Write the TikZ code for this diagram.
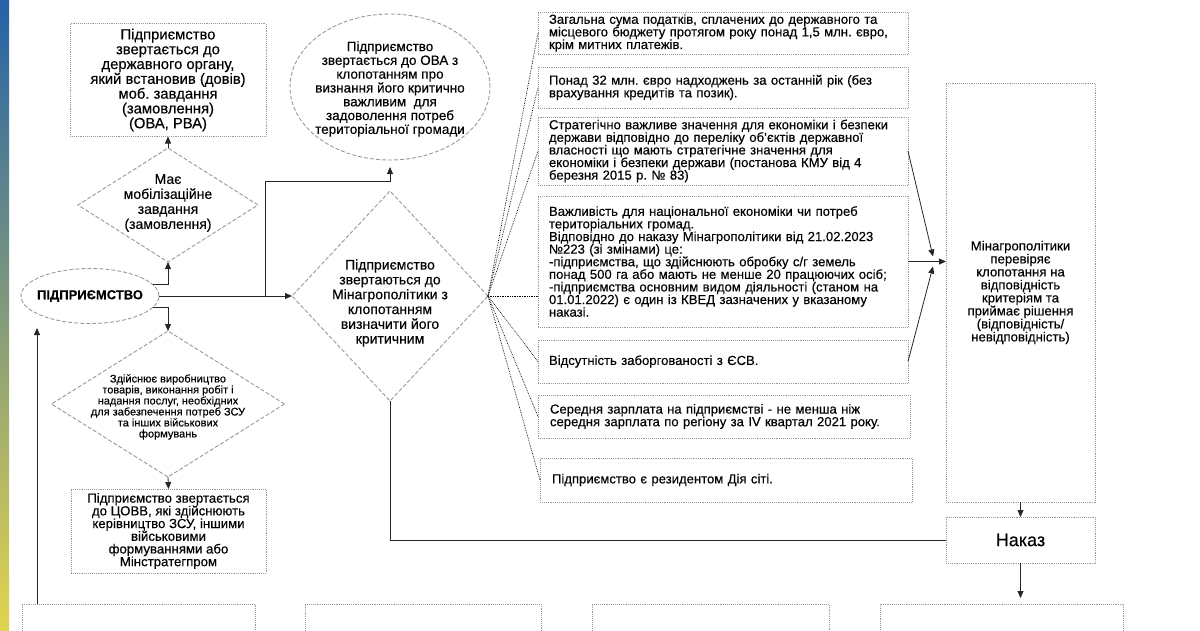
\documentclass[tikz,border=0pt]{standalone}
\usepackage{fontspec}
\setmainfont{Liberation Sans}[FakeBold=0.3]
\usetikzlibrary{shapes.geometric,arrows.meta,calc}
\definecolor{stripblue}{RGB}{36,98,168}
\definecolor{stripgreen}{RGB}{122,158,126}
\definecolor{stripyellow}{RGB}{226,212,78}
\frenchspacing
\begin{document}
\begin{tikzpicture}[x=1pt,y=-1pt,>={Stealth[length=7pt,width=6pt,inset=0pt]},
		conn/.style={line width=0.8pt,black!85},
		dots/.style={densely dotted,line width=0.7pt,black},
		dotbox/.style={draw=black!40,densely dotted,line width=0.9pt,inner sep=0pt,outer sep=0pt},
		dashshape/.style={draw=black!40,dash pattern=on 4pt off 2pt,line width=0.9pt,inner sep=0pt,outer sep=0pt},
		rbox/.style={dotbox,anchor=north west,minimum width=370pt,text width=348pt,align=left,font=\fontsize{13.1}{12.6}\selectfont},
		ctext/.style={align=center,inner sep=0pt}]
	\useasboundingbox (0,0) rectangle (1200,630);
	\shade[top color=stripblue,middle color=stripgreen,bottom color=stripyellow] (0,0) rectangle (9,630);

	\node[dotbox,minimum width=196pt,minimum height=113pt,align=center,
		font=\fontsize{14.8}{14.8}\selectfont] (dov) at (168,80)
		{Підприємство\\звертається до\\державного органу,\\який встановив (довів)\\моб. завдання\\(замовлення)\\(ОВА, РВА)};
	\node[dashshape,diamond,minimum width=180pt,minimum height=114pt] (mob) at (168,205) {};
	\node[ctext,font=\fontsize{14}{15}\selectfont] (mob-t) at (168,203)
		{Має\\мобілізаційне\\завдання\\(замовлення)};
	\node[dashshape,ellipse,minimum width=138pt,minimum height=55pt] (pidpr) at (90,296) {};
	\node[ctext,font=\fontsize{13}{13}\selectfont\bfseries] (pidpr-t) at (pidpr) {ПІДПРИЄМСТВО};
	\node[dashshape,ellipse,minimum width=200pt,minimum height=146pt] (ova) at (390,87) {};
	\node[ctext,font=\fontsize{13.5}{13.8}\selectfont] (ova-t) at (390,89)
		{Підприємство\\звертається до ОВА з\\клопотанням про\\визнання його критично\\важливим\ \ для\\задоволення потреб\\територіальної громади};
	\node[dashshape,diamond,minimum width=196pt,minimum height=210pt] (crit) at (390,296) {};
	\node[ctext,font=\fontsize{14}{14.8}\selectfont] (crit-t) at (390,303)
		{Підприємство\\звертаються до\\Мінагрополітики з\\клопотанням\\визначити його\\критичним};
	\node[dashshape,diamond,minimum width=233pt,minimum height=146pt] (zsu) at (168,404) {};
	\node[ctext,font=\fontsize{11}{11}\selectfont] (zsu-t) at (168,407)
		{Здійснює виробництво\\товарів, виконання робіт і\\надання послуг, необхідних\\для забезпечення потреб ЗСУ\\та інших військових\\формувань};
	\node[dotbox,minimum width=195pt,minimum height=84pt,align=center,
		font=\fontsize{13.2}{12.7}\selectfont] (covv) at (168.5,531)
		{Підприємство звертається\\до ЦОВВ, які здійснюють\\керівництво ЗСУ, іншими\\військовими\\формуваннями або\\Мінстратегпром};

	\node[rbox,minimum height=42pt] (suma) at (538,12)
		{Загальна сума податків, сплачених до державного та\\місцевого бюджету протягом року понад 1,5 млн. євро,\\крім митних платежів.};
	\node[rbox,minimum height=41pt] (dohid) at (538,67)
		{Понад 32 млн. євро надходжень за останній рік (без\\врахування кредитів та позик).};
	\node[rbox,minimum height=68pt] (strat) at (538,117)
		{Стратегічно важливе значення для економіки і безпеки\\держави відповідно до переліку об’єктів державної\\власності що мають стратегічне значення для\\економіки і безпеки держави (постанова КМУ від 4\\березня 2015 р. № 83)};
	\node[rbox,minimum height=131pt] (vazhl) at (538,196)
		{Важливість для національної економіки чи потреб\\територіальних громад.\\Відповідно до наказу Мінагрополітики від 21.02.2023\\№223 (зі змінами) це:\\-підприємства, що здійснюють обробку с/г земель\\понад 500 га або мають не менше 20 працюючих осіб;\\-підприємства основним видом діяльності (станом на\\01.01.2022) є один із КВЕД зазначених у вказаному\\наказі.};
	\node[rbox,minimum height=43pt] (esv) at (538,340)
		{Відсутність заборгованості з ЄСВ.};
	\node[rbox,minimum height=43pt,minimum width=372pt] (zarp) at (538,395)
		{Середня зарплата на підприємстві - не менша ніж\\середня зарплата по регіону за IV квартал 2021 року.};
	\node[rbox,minimum height=44pt,minimum width=372pt] (diya) at (540,458)
		{Підприємство є резидентом Дія сіті.};

	\node[dotbox,minimum width=149pt,minimum height=419pt,align=center,
		font=\fontsize{13.2}{13}\selectfont] (minagro) at (1020.5,292.5)
		{Мінагрополітики\\перевіряє\\клопотання на\\відповідність\\критеріям та\\приймає рішення\\(відповідність/\\невідповідність)};
	\node[dotbox,minimum width=149pt,minimum height=46pt,font=\fontsize{18}{18}\selectfont] (nakaz) at (1020.5,540) {Наказ};
	\foreach \x/\w [count=\i] in {22/233,305/236,592/237,880/243}
		\node[dotbox,anchor=north west,minimum width=\w pt,minimum height=80pt] (niz\i) at (\x,604) {};

	\draw[conn,->] (mob.north) -- (dov.south);
	\draw[conn,->] (pidpr.10) -| (mob.south);
	\draw[conn,->] (pidpr.-10) -| (zsu.north);
	\draw[conn,->] (pidpr.east) -- (crit.west);
	\coordinate (split) at (265,296);
	\coordinate (bend) at (265,181);
	\draw[conn,->,shorten >=7pt] (split) -- (bend) -| (ova.south);
	\draw[conn,->] (zsu.south) -- (covv.north);
	\coordinate (up) at (37,328);
	\draw[conn,->] (niz1.north -| up) -- (up);
	\draw[conn] (crit.south) |- (nakaz.west);
	\draw[conn,->] (minagro.south) -- (nakaz.north);
	\draw[conn,->,shorten >=6pt] (nakaz.south) -- (nakaz.south |- niz4.north);

	\foreach \b in {suma,dohid,strat,esv,zarp,diya}
		\draw[dots] (crit.east) -- (\b.west);
	\draw[dots] (crit.east) -- (crit.east -| vazhl.west);

	\coordinate (vhid) at (minagro.west |- vazhl.east);
	\draw[conn,->] (vazhl.east) -- (vhid);
	\draw[conn,->] (strat.east) -- ($(vhid)+(-13,-5)$);
	\draw[conn,->] (esv.east) -- ($(vhid)+(-13,5)$);
\end{tikzpicture}
\end{document}
